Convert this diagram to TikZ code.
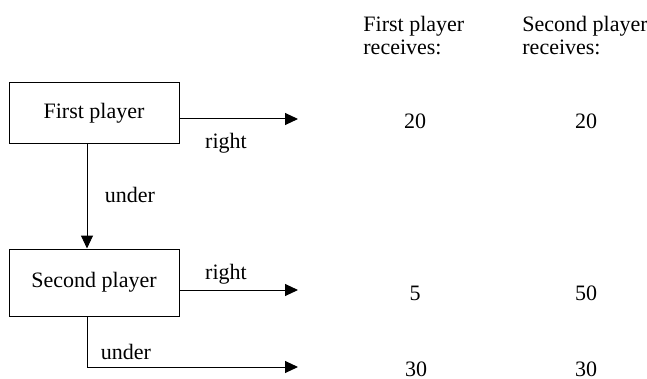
\documentclass[tikz,border=0pt]{standalone}
\usepackage{fontspec}
\setmainfont{Liberation Serif}
\usetikzlibrary{arrows.meta}

\begin{document}
\begin{tikzpicture}
  [x=0.5pt,y=-0.5pt,font=\fontsize{11}{10}\selectfont,
   player/.style={draw,rectangle,line width=0.5pt,minimum width=85pt},
   move/.style={line width=0.5pt,-{Triangle[length=6.5pt,width=6pt]}},
   pay/.style={inner sep=0pt},
   head/.style={inner sep=0pt,anchor=north west,align=left,
                font=\fontsize{11}{11.5}\selectfont}]
  \useasboundingbox (0,0) rectangle (647,379);
  % players
  \node[player,minimum height=30.5pt] (p1) at (94,113.5) {First player};
  \node[player,minimum height=33.5pt] (p2) at (94,282.5) {Second player};
  % column heads
  \node[head] (h1) at (363,16) {First player\\receives:};
  \node[head] (h2) at (522,16) {Second player\\receives:};
  % outcomes
  \node[pay] (a1) at (415,121) {20};
  \node[pay] (b1) at (586,121) {20};
  \node[pay] (a2) at (415,293) {5};
  \node[pay] (b2) at (586,293) {50};
  \node[pay] (a3) at (416,369) {30};
  \node[pay] (b3) at (586,369) {30};
  \coordinate (e1) at (298,119);
  \coordinate (e2) at (298,290);
  \coordinate (e3) at (298,367);
  % moves
  \draw[move] (p1.east |- e1) -- (e1);
  \draw[move] ([xshift=-3.5pt]p1.south) -- ([xshift=-3.5pt]p2.north);
  \draw[move] (p2.east |- e2) -- (e2);
  \draw[move] ([xshift=-3.5pt]p2.south) |- (e3);
  % labels
  \node (l1) at (226,143) {right};
  \node (l2) at (130,195) {under};
  \node (l3) at (226,274) {right};
  \node (l4) at (126,352) {under};
\end{tikzpicture}
\end{document}
